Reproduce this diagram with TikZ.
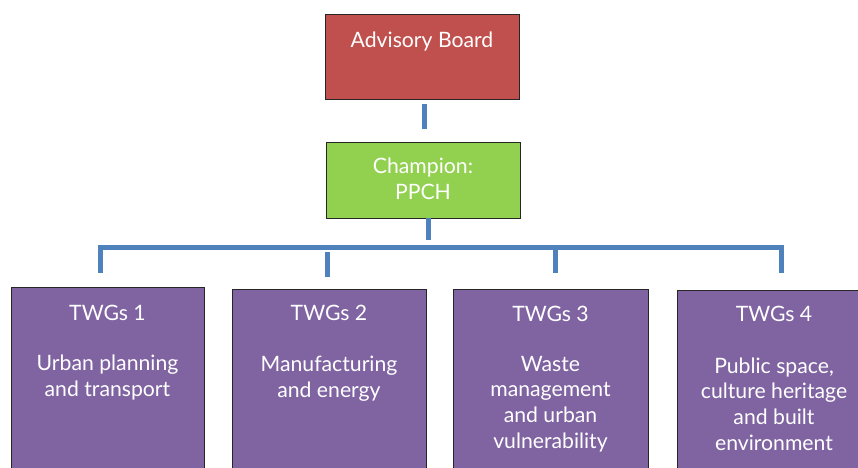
\documentclass[tikz,border=0pt]{standalone}
\usepackage{fontspec}
\setmainfont{Lato}
\definecolor{abred}{HTML}{C0504D}
\definecolor{chgreen}{HTML}{92D050}
\definecolor{twgpurple}{HTML}{8064A2}
\definecolor{connblue}{HTML}{4F81BD}
\begin{document}
\begin{tikzpicture}[x=1pt,y=-1pt,
  box/.style={draw=black!85, line width=0.9pt, rectangle, inner sep=0pt},
  txt/.style={text=white, font=\fontsize{21.2}{25.6}\selectfont, align=center, inner sep=0pt, anchor=base},
  conn/.style={draw=connblue, line width=5pt}]
\clip (0,0) rectangle (858,467);
\fill[white] (0,0) rectangle (858,467);
% boxes
\node[box, fill=abred, minimum width=194pt, minimum height=85pt] (ab) at (422,56.5) {};
\node[box, fill=chgreen, minimum width=194pt, minimum height=76pt] (ch) at (423,180) {};
\node[box, fill=twgpurple, minimum width=193pt, minimum height=193pt, anchor=north] (t1) at (107.5,287) {};
\node[box, fill=twgpurple, minimum width=194pt, minimum height=191pt, anchor=north] (t2) at (329,289) {};
\node[box, fill=twgpurple, minimum width=195pt, minimum height=191pt, anchor=north] (t3) at (550.5,289) {};
\node[box, fill=twgpurple, minimum width=194pt, minimum height=190pt, anchor=north] (t4) at (774,290) {};
% texts (anchor base = baseline of last line)
\node[txt] (abt) at (422,47) {Advisory Board};
\node[txt] (cht) at (423,199) {Champion:\\PPCH};
\node[txt] (t1a) at (107.5,320) {TWGs 1};
\node[txt] (t1b) at (107.5,396) {Urban planning\\and transport};
\node[txt] (t2a) at (329,320) {TWGs 2};
\node[txt] (t2b) at (329,397) {Manufacturing\\and energy};
\node[txt] (t3a) at (550.5,321) {TWGs 3};
\node[txt] (t3b) at (550.5,448) {Waste\\management\\and urban\\vulnerability};
\node[txt] (t4a) at (774,321) {TWGs 4};
\node[txt] (t4b) at (774,450) {Public space,\\culture heritage\\and built\\environment};
% connectors
\draw[conn] ([shift={(2,5)}]ab.south) -- ([shift={(1,-13)}]ch.north);
\draw[conn] ([shift={(5,0)}]ch.south) -- ++(0,22);
\draw[conn] ([shift={(-7,-14)}]t1.north) -- ++(0,-26) -| ([shift={(7,-17)}]t4.north);
\draw[conn] ([shift={(4.5,-16)}]t3.north) -- ++(0,-26);
\draw[conn] ([shift={(-2,-12)}]t2.north) -- ++(0,-25);
\end{tikzpicture}
\end{document}
